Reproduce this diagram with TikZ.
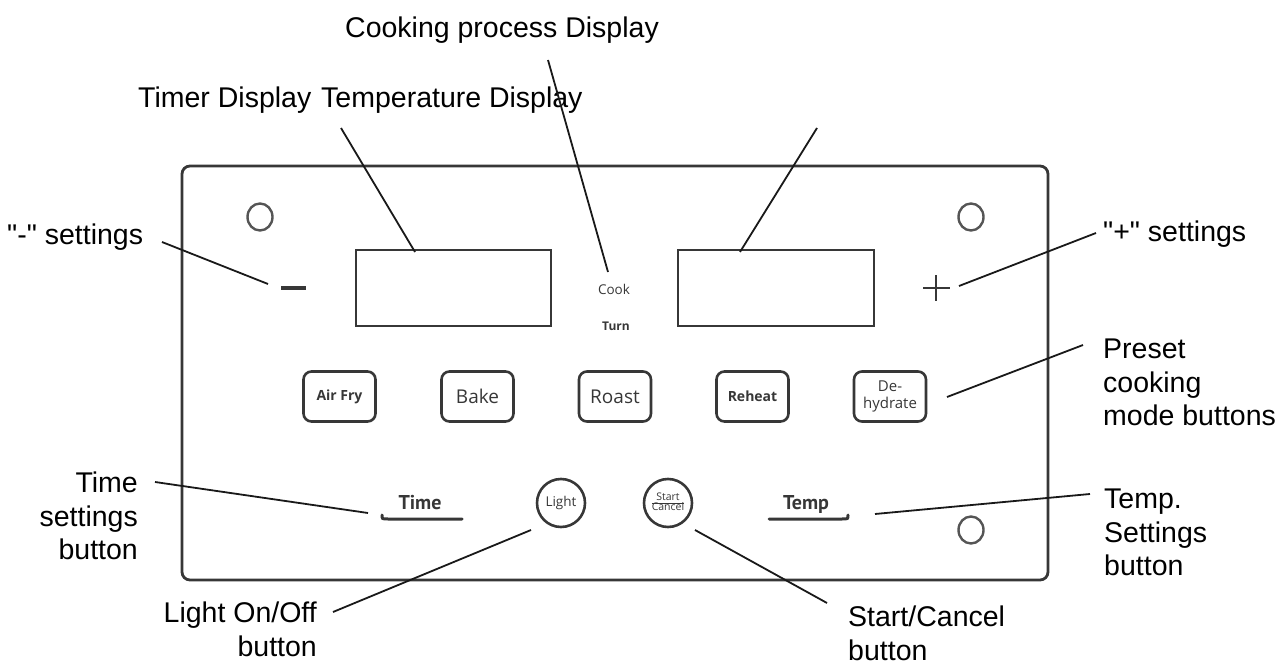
\documentclass[tikz,border=0pt]{standalone}
\usepackage{fontspec}
\setmainfont{Liberation Sans}[Ligatures=TeXOff]
\newfontfamily\keyfont{Open Sans}
\newfontfamily\padfont{PT Sans}
\usepackage{tikz}
\definecolor{panelgray}{RGB}{55,55,55}
\definecolor{leadgray}{RGB}{25,25,25}

\begin{document}
\begin{tikzpicture}[x=1pt,y=-1pt,
  callout/.style={inner sep=0pt,font=\fontsize{28.5}{33.5}\selectfont},
  leader/.style={draw=leadgray,line width=1.8pt},
  modebtn/.style={draw=panelgray,line width=2.6pt,rounded corners=8pt,minimum width=72pt,minimum height=50pt,inner sep=1pt,text=panelgray,align=center},
  roundbtn/.style={circle,draw=panelgray,line width=2.6pt,minimum size=48pt,inner sep=0pt,text=panelgray},
  hole/.style={draw=panelgray!85,line width=2.4pt}]
  \useasboundingbox (0,0) rectangle (1284,668);

  % panel, displays, holes
  \draw[panelgray,line width=2.8pt,rounded corners=8pt] (182,166) rectangle (1048,580);
  \draw[panelgray,line width=2pt] (356,250) rectangle (551,326);
  \draw[panelgray,line width=2pt] (678,250) rectangle (874,326);
  \draw[hole] (260,217) ellipse [x radius=12.5pt, y radius=13.5pt];
  \draw[hole] (971,217) ellipse [x radius=12.5pt, y radius=13.5pt];
  \draw[hole] (971,530) ellipse [x radius=12.5pt, y radius=13.5pt];

  % minus and plus
  \draw[panelgray,line width=3.4pt] (281,288) -- (306,288);
  \draw[panelgray,line width=2.6pt] (923,288) -- (950,288);
  \draw[panelgray,line width=2.6pt] (936,275) -- (936,301);

  \node[font=\keyfont\fontsize{13.5}{13.5}\selectfont,text=panelgray] (cook) at (614,289) {Cook};
  \node[font=\keyfont\bfseries\fontsize{12}{12}\selectfont,text=panelgray] (turn) at (616,326) {Turn};

  % mode buttons
  \node[modebtn,font=\keyfont\bfseries\fontsize{14}{14}\selectfont] (airfry) at (339.5,396.5) {Air Fry};
  \node[modebtn,font=\keyfont\fontsize{19}{19}\selectfont] (bake) at (477.5,396.5) {Bake};
  \node[modebtn,font=\keyfont\fontsize{19}{19}\selectfont] (roast) at (615,396.5) {Roast};
  \node[modebtn,font=\keyfont\bfseries\fontsize{14}{14}\selectfont] (reheat) at (752.5,396.5) {Reheat};
  \node[modebtn,font=\keyfont\fontsize{15}{17}\selectfont] (dehydrate) at (890,396.5) {De-\\hydrate};

  % bottom row
  \node[anchor=base,text=panelgray] (timekey) at (420,509) {\padfont\bfseries\fontsize{20}{20}\selectfont Time};
  \node[anchor=base,text=panelgray] (tempkey) at (806,509) {\padfont\bfseries\fontsize{20}{20}\selectfont Temp};
  \draw[panelgray,line width=3pt,line cap=round] (382,515) .. controls (382,519) .. (388,519) -- (462,519);
  \draw[panelgray,line width=3pt,line cap=round] (769,519) -- (842,519) .. controls (848,519) .. (848,515);
  \node[roundbtn] (light) at (561,503) {\keyfont\fontsize{13.5}{13.5}\selectfont Light};
  \node[roundbtn] (startcancel) at (668,503) {\keyfont\fontsize{10.5}{10.5}\selectfont\renewcommand\arraystretch{0.8}\begin{tabular}{@{}c@{}}Start\\\hline Cancel\end{tabular}};

  % labels
  \node[callout,anchor=base west] (cookproc) at (345,38) {Cooking process Display};
  \node[callout,anchor=base west] (timerlbl) at (138,108) {Timer Display};
  \node[callout,anchor=base west] (templbl) at (321,108) {Temperature Display};
  \node[callout,anchor=base west] (minuslbl) at (7,244) {"-" settings};
  \node[callout,anchor=base west] (pluslbl) at (1103,242) {"+" settings};
  \node[callout,anchor=north west,align=left] (presetlbl) at (1103,339) {Preset\\cooking\\mode buttons};
  \node[callout,anchor=north east,align=right] (timelbl) at (138,472) {Time\\settings\\button};
  \node[callout,anchor=north west,align=left] (tempsetlbl) at (1104,489) {Temp.\\Settings\\button};
  \node[callout,anchor=north east,align=right] (lightlbl) at (317,602) {Light On/Off\\button};
  \node[callout,anchor=north west,align=left] (startlbl) at (848,606) {Start/Cancel\\button};

  % leader ends
  \coordinate (cpA) at (548,60);   \coordinate (cpB) at (608,272);
  \coordinate (tdA) at (341,128);  \coordinate (tdB) at (415,252);
  \coordinate (teA) at (817,128);  \coordinate (teB) at (740,252);
  \coordinate (miA) at (162,242);  \coordinate (miB) at (268,284);
  \coordinate (plA) at (1096,233); \coordinate (plB) at (959,286);
  \coordinate (prA) at (1083,345); \coordinate (prB) at (947,397);
  \coordinate (tiA) at (155,482);  \coordinate (tiB) at (368,513);
  \coordinate (tpA) at (1090,494); \coordinate (tpB) at (875,514);
  \coordinate (liA) at (333,612);  \coordinate (liB) at (531,530);
  \coordinate (scA) at (827,603);  \coordinate (scB) at (695,530);

  \draw[leader] (cpA) -- (cpB);
  \draw[leader] (tdA) -- (tdB);
  \draw[leader] (teA) -- (teB);
  \draw[leader] (miA) -- (miB);
  \draw[leader] (plA) -- (plB);
  \draw[leader] (prA) -- (prB);
  \draw[leader] (tiA) -- (tiB);
  \draw[leader] (tpA) -- (tpB);
  \draw[leader] (liA) -- (liB);
  \draw[leader] (scA) -- (scB);
\end{tikzpicture}
\end{document}
